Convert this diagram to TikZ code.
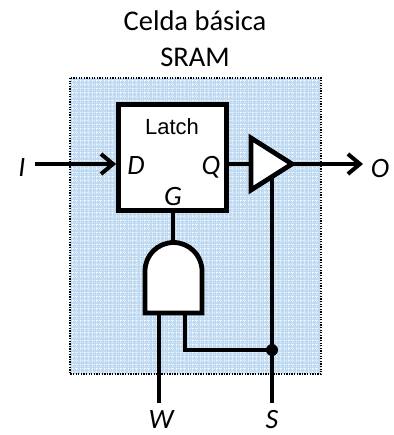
\documentclass[tikz,border=0pt]{standalone}
\usepackage{fontspec}
\setmainfont{Carlito}
\newfontfamily\arialf{Liberation Sans}
\usetikzlibrary{arrows.meta,calc}
\definecolor{cellblue}{RGB}{192,218,241}
\tikzset{
  wire/.style={line width=4.2pt,draw=black},
  thinwire/.style={line width=3.6pt,draw=black},
  arrowwire/.style={line width=4pt,draw=black,-{Straight Barb[length=12pt,width=20pt,line width=4pt]}},
  lbl/.style={inner sep=0pt,font=\fontsize{28}{28}\selectfont\itshape},
  part/.style={line width=4.8pt,draw=black,fill=white,line join=miter},
}
\begin{document}
\begin{tikzpicture}[x=1pt,y=-1pt]
\useasboundingbox (0,0) rectangle (393,435);
% cell background
\fill[cellblue] (70,78) rectangle (321,374);
\begin{scope}
\clip (70,78) rectangle (321,374);
\foreach \gx in {72,76,...,320} \draw[white,opacity=.7,line width=.9pt,dash pattern=on 1.2pt off 1.2pt] (\gx,78) -- (\gx,374);
\foreach \gy in {80,84,...,373} \draw[white,opacity=.7,line width=.9pt,dash pattern=on 1.2pt off 1.2pt] (70,\gy) -- (321,\gy);
\end{scope}
\draw[black,line width=1.3pt,dash pattern=on 1.3pt off 1.3pt] (70,78) rectangle (321,374);
% title
\node[inner sep=0pt,font=\fontsize{28.5}{36}\selectfont,align=center] (title) at (195,39) {Celda básica\\SRAM};
% coordinates
\coordinate (qout) at (227,164);
\coordinate (bufin) at (251,164);
\coordinate (bufout) at (292,164);
\coordinate (oend) at (363,164);
\coordinate (istart) at (35,164);
\coordinate (dots) at (272,350);
\coordinate (send) at (272,403);
\coordinate (sup) at (272,178);
\coordinate (wend) at (159,403);
\coordinate (wtop) at (159,312);
\coordinate (atop) at (185,312);
\coordinate (acorner) at (185,350);
\coordinate (gatetop) at (173,244);
% wires
\draw[wire] (qout) -- (bufin);
\draw[wire] (sup) -- (send);
\draw[wire] (wtop) -- (wend);
\draw[wire] (atop) -- (acorner);
\draw[thinwire] (acorner) ++(-2,0) -- (dots);
% latch
\node[part,draw,minimum width=108pt,minimum height=106pt,inner sep=0pt] (latch) at (172.5,157.5) {};
\draw[wire] (latch.south -| gatetop) -- (gatetop);
\draw[arrowwire] (istart) -- (latch.west |- istart);
% buffer
\filldraw[part] (251,138) -- (bufout) -- (251,190) -- cycle;
\draw[arrowwire] (bufout) -- (oend);
% and gate
\filldraw[part] (145,313) -- (145,271) arc[start angle=180,end angle=360,radius=28.5] -- (202,313) -- cycle;
\fill[black] (dots) circle (6);
% labels
\node[inner sep=0pt,font=\arialf\fontsize{22}{22}\selectfont] (lt) at (172,127) {Latch};
\node[lbl] (ld) at (136,166) {D};
\node[lbl] (lq) at (211,167) {Q};
\node[lbl] (lg) at (173,197) {G};
\node[lbl] (li) at (22,168) {I};
\node[lbl] (lo) at (380,169) {O};
\node[lbl] (lw) at (161,420) {W};
\node[lbl] (ls) at (272,420) {S};
\end{tikzpicture}
\end{document}
